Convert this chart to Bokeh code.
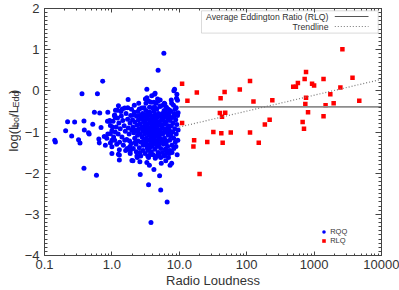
import math
from bokeh.plotting import figure
from bokeh.layouts import row
from bokeh.models import (Range1d, FixedTicker, LogAxis, LinearAxis, Label,
                          BoxAnnotation, Arrow, Legend, LegendItem)
from bokeh.core.properties import value
from bokeh.embed import file_html
from bokeh.resources import INLINE

# ---------------- data ----------------
# Radio-quiet quasars (RQQ): radio loudness, log(Lbol/LEdd)
rqq_left_rl = [0.142, 0.145, 0.206, 0.22, 0.253, 0.28, 0.32, 0.336, 0.36, 0.385, 0.39, 0.385,
               0.45, 0.46, 0.52, 0.55, 0.59, 0.61, 0.64, 0.65, 0.66, 0.69, 0.73, 0.77, 0.80,
               0.84, 0.86, 0.87, 0.87, 0.90, 0.93, 0.95, 0.95, 0.95, 1.00, 1.00, 1.00, 1.00,
               1.02, 1.04, 1.06, 1.09, 1.10, 1.13, 1.12]
rqq_left_y = [-1.20, -1.24, -0.97, -0.75, -1.10, -0.76, -1.19, -1.27, -0.07, -0.73, -0.95, -1.88,
              -1.02, -1.05, -0.81, -0.52, -2.05, -0.07, -1.17, -1.27, -0.54, -0.89, 0.23, -1.11, -1.32,
              -1.15, -0.74, -0.52, -1.05, -0.74, -0.72, -0.84, -1.04, -1.27, -0.97, -1.20, -1.36, -1.52,
              -0.88, -0.74, -1.12, -0.60, -1.20, -0.47, -0.65]

rqq_high_rl = [5.9, 4.85, 3.3, 8.5, 4.3, 9.2, 8.3, 9.1, 9.4, 3.3, 4.76, 7.6, 6.1, 5.2, 1.25, 1.74,
               2.55, 3.0, 4.0, 1.43, 1.72, 1.22, 9.0, 7.3, 9.6, 8.3, 6.2, 3.55, 2.15, 1.1, 4.37, 3.9]
rqq_high_y = [0.91, 0.50, 0.04, 0.04, -0.08, -0.08, 0.00, -0.18, -0.23, -0.17, -0.20, -0.22, -0.32,
              -0.37, -0.36, -0.21, -0.44, -0.41, -0.41, -0.44, -0.41, -0.47, -0.41, -0.48, -0.53,
              -0.63, -0.51, -0.52, -0.52, -0.59, -0.06, -0.12]

rqq_low_rl = [2.63, 4.2, 5.1, 3.5, 5.3, 6.6, 3.8, 3.3, 3.6, 5.4, 6.9, 7.3, 7.7, 6.3, 3.5, 2.6, 2.05,
              2.35, 1.87, 1.29, 1.29, 1.98, 1.25, 1.29, 1.55, 1.85, 4.4, 7.1, 6.4]
rqq_low_y = [-2.03, -1.91, -2.06, -2.28, -2.41, -2.70, -3.20, -1.74, -1.81, -1.76, -1.62, -1.81,
             -1.76, -1.70, -1.62, -1.72, -1.70, -1.58, -1.52, -1.56, -1.68, -1.69, -1.54, -1.43,
             -1.20, -1.35, -1.64, -1.52, -1.45]

rqq_core_rl = [
    1.21, 1.27, 1.33, 1.24, 1.38, 1.45, 1.52, 1.41, 1.58, 1.62, 1.66, 1.71, 1.75, 1.80, 1.86,
    1.90, 1.94, 1.97, 1.30, 1.48, 1.69, 1.83, 1.16, 1.12, 1.55, 1.95, 1.36, 1.60, 1.18, 1.88,
    2.02, 2.05, 2.10, 2.12, 2.18, 2.20, 2.25, 2.28, 2.32, 2.35, 2.40, 2.42, 2.45, 2.48, 2.52,
    2.55, 2.58, 2.62, 2.65, 2.70, 2.72, 2.76, 2.80, 2.84, 2.88, 2.92, 2.95, 2.98, 2.08, 2.30,
    2.60, 2.90, 2.15, 2.50, 2.78, 2.38, 2.22, 2.68, 2.86, 2.44,
    3.02, 3.05, 3.08, 3.12, 3.15, 3.18, 3.22, 3.25, 3.28, 3.32, 3.35, 3.38, 3.42, 3.45, 3.48,
    3.52, 3.55, 3.58, 3.62, 3.65, 3.68, 3.72, 3.75, 3.78, 3.82, 3.85, 3.88, 3.92, 3.95, 3.98,
    3.10, 3.40, 3.70, 3.20, 3.50, 3.80, 3.60, 3.30, 3.90, 3.00, 3.14, 3.66, 3.36, 3.76, 3.46,
    4.02, 4.05, 4.08, 4.12, 4.15, 4.18, 4.22, 4.25, 4.28, 4.32, 4.35, 4.38, 4.42, 4.45, 4.48,
    4.52, 4.55, 4.58, 4.62, 4.65, 4.68, 4.72, 4.76, 4.80, 4.85, 4.90, 4.95, 5.00, 5.05, 5.10,
    5.15, 5.20, 5.25, 5.30, 5.35, 5.40, 5.45, 5.50, 4.10, 4.40, 4.70, 5.00, 5.30, 4.20, 4.50,
    4.80, 5.20, 4.60, 4.90, 4.30,
    5.55, 5.62, 5.68, 5.75, 5.82, 5.88, 5.95, 6.02, 6.10, 6.18, 6.25, 6.32, 6.40, 6.48, 6.55,
    6.62, 6.70, 6.78, 6.85, 6.92, 5.60, 5.90, 6.20, 6.60, 5.70, 6.00, 6.45, 5.78, 6.36, 6.88,
    6.05, 5.58, 6.70, 6.15, 5.85,
    7.05, 7.12, 7.20, 7.30, 7.40, 7.50, 7.62, 7.75, 7.85, 7.95, 8.10, 8.25, 8.40, 8.55, 8.70,
    8.85, 9.00, 9.20, 9.40, 9.60, 7.25, 7.80, 8.30, 8.90, 7.70, 8.20, 9.50, 7.55, 8.65, 9.30]
rqq_core_y = [
    -0.66, -0.78, -0.92, -1.05, -0.61, -0.72, -0.85, -1.12, -0.98, -0.55, -1.18, -0.69, -0.90, -1.05, -0.78,
    -0.60, -1.28, -0.95, -1.25, -1.32, -1.40, -1.22, -0.88, -1.00, -0.42, -0.45, -0.50, -1.45, -1.30, -1.45,
    -0.70, -0.88, -1.02, -0.58, -1.15, -0.76, -0.95, -1.30, -0.62, -0.83, -1.08, -0.50, -1.22, -0.70, -0.92,
    -1.38, -0.60, -0.80, -1.05, -1.25, -0.68, -0.88, -1.12, -0.55, -0.97, -1.32, -0.75, -1.18, -1.40, -1.48,
    -1.50, -1.45, -0.35, -0.30, -0.42, -1.62, -1.25, -1.58, -0.65, -0.98,
    -0.58, -0.85, -1.05, -0.72, -1.25, -0.48, -0.95, -1.15, -0.65, -0.80, -1.40, -1.00, -0.55, -0.88, -1.20,
    -0.70, -1.08, -0.95, -0.40, -1.30, -0.78, -1.02, -0.60, -1.15, -0.90, -1.48, -0.68, -1.05, -0.82, -1.22,
    -1.52, -1.58, -1.55, -0.30, -0.25, -0.28, -1.38, -1.32, -1.35, -0.95, -0.20, -0.52, -0.62, -0.95, -1.45,
    -0.62, -0.90, -1.12, -0.75, -1.30, -0.50, -0.98, -1.18, -0.68, -0.85, -1.42, -1.05, -0.58, -0.92, -1.25,
    -0.72, -1.10, -0.80, -0.45, -1.35, -1.00, -0.65, -1.20, -0.85, -1.50, -0.55, -1.08, -0.75, -1.28, -0.95,
    -0.38, -1.15, -0.62, -1.40, -0.82, -1.02, -0.70, -1.22, -1.55, -1.60, -1.58, -1.55, -1.62, -0.28, -0.30,
    -0.25, -0.22, -1.30, -1.32, -0.40,
    -0.88, -0.55, -1.05, -0.72, -1.30, -0.92, -0.48, -1.15, -0.80, -1.42, -0.62, -1.00, -0.75, -1.22, -0.55,
    -0.90, -1.35, -0.68, -1.08, -0.85, -1.50, -1.58, -1.55, -1.50, -0.35, -0.30, -0.40, -1.20, -1.28, -0.45,
    -0.62, -0.62, -1.02, -0.98, -0.65,
    -0.58, -0.95, -1.20, -0.72, -1.05, -0.50, -0.85, -1.32, -0.65, -1.00, -0.78, -1.15, -0.55, -0.92, -1.25,
    -0.70, -1.05, -0.82, -0.60, -0.95, -1.45, -1.50, -1.40, -1.35, -0.30, -0.35, -1.20, -1.10, -0.45, -1.55]

rqq_rl = rqq_left_rl + rqq_high_rl + rqq_low_rl + rqq_core_rl
rqq_y = rqq_left_y + rqq_high_y + rqq_low_y + rqq_core_y

# Radio-loud quasars (RLQ)
rlq_rl = [2630, 759, 724, 1380, 3715, 112, 490, 537, 575, 933, 1000, 2455, 79, 47, 41, 126, 240,
          759, 1740, 741, 1480, 1950, 4680, 40, 48, 43, 813, 1380, 219, 186, 676, 708, 32, 42,
          58, 112, 26, 44, 151, 11, 13.2, 18.2, 11, 16.6, 16.2, 20]
rlq_y = [1.01, 0.46, 0.29, 0.29, 0.32, 0.24, 0.10, 0.10, 0.19, 0.17, 0.13, 0.08, 0.03, -0.03, -0.18,
         -0.26, -0.23, -0.17, -0.08, -0.32, -0.35, -0.30, -0.24, -0.54, -0.53, -0.63, -0.52, -0.62,
         -0.70, -0.82, -0.76, -0.92, -1.00, -1.03, -1.01, -1.01, -1.24, -1.26, -1.26, 0.17, -0.24,
         -0.04, -0.78, -1.20, -1.35, -2.02]

avg_line_rl = [10, 10000]
avg_line_y = [-0.39, -0.39]          # average Eddington ratio (RLQ)
trend_rl = [10, 10000]
trend_y = [-0.88, 0.28]               # trendline

x_ticks = [0.1, 1, 10, 100, 1000, 10000]
x_tick_labels = ["0.1", "1.0", "10.0", "100", "1000", "10000"]
y_ticks = [-4, -3, -2, -1, 0, 1, 2]
y_tick_labels = ["\u22124", "\u22123", "\u22122", "\u22121", "0", "1", "2"]

# y-axis title pieces: (text, is_subscript)
ytitle_parts = [("log(L", False), ("bol", True), ("/L", False), ("Edd", True), (")", False)]

# ---------------- style ----------------
FONT = "Liberation Sans"
TXT = "#333333"
AX = "#444444"
W_LAB = 21
H = 290

p = figure(width=399 - W_LAB, height=H, x_axis_type="log",
           x_range=Range1d(0.1, 10000), y_range=Range1d(-4, 2),
           output_backend="svg", toolbar_location=None,
           min_border_left=42 - W_LAB, min_border_right=18, min_border_top=8, min_border_bottom=34)
p.xgrid.visible = False
p.ygrid.visible = False
p.outline_line_color = AX
p.background_fill_color = "white"
p.border_fill_color = "white"

x_minor = [m * 10.0 ** e for e in range(-1, 4) for m in range(2, 10)]
y_minor = [round(-4 + i * 0.1, 1) for i in range(61)]
xt = FixedTicker(ticks=x_ticks, minor_ticks=x_minor)
yt = FixedTicker(ticks=y_ticks, minor_ticks=y_minor)


def style(ax, ticker, labels, maj, mnr):
    ax.ticker = ticker
    ax.axis_line_color = AX
    ax.major_tick_line_color = AX
    ax.minor_tick_line_color = AX
    ax.major_tick_in = maj
    ax.major_tick_out = 0
    ax.minor_tick_in = mnr
    ax.minor_tick_out = 0
    if labels is None:
        ax.major_label_text_font_size = "1px"
        ax.major_label_text_alpha = 0
        ax.major_label_standoff = 0
    else:
        ax.major_label_overrides = labels
        ax.major_label_text_font = FONT
        ax.major_label_text_font_size = "13px"
        ax.major_label_text_color = TXT


xa = p.xaxis[0]
style(xa, xt, {float(t): l for t, l in zip(x_ticks, x_tick_labels)}, 4, 2)
xa.major_label_standoff = 4
xa.axis_label = "Radio Loudness"
xa.axis_label_text_font = FONT
xa.axis_label_text_font_size = "13px"
xa.axis_label_text_font_style = "normal"
xa.axis_label_text_color = TXT
xa.axis_label_standoff = 1
style(p.yaxis[0], yt, {float(t): l for t, l in zip(y_ticks, y_tick_labels)}, 6, 3)
p.yaxis[0].major_label_standoff = 5

top = LogAxis()
style(top, xt, None, 4, 2)
p.add_layout(top, "above")
right = LinearAxis()
style(right, yt, None, 6, 3)
p.add_layout(right, "right")

# ---------------- marks ----------------
rqq = p.scatter(rqq_rl, rqq_y, marker="circle", size=5, fill_color="#0000FF", line_color=None)
rlq = p.scatter(rlq_rl, rlq_y, marker="square", size=4.5, fill_color="#FF0000", line_color=None)
p.line(avg_line_rl, avg_line_y, line_color="#8c8c8c", line_width=1.6)
p.line(trend_rl, trend_y, line_color="#7a7a7a", line_width=1.2, line_dash="1 2")


def lab(text, x, y, size="13px", align="left", baseline="alphabetic"):
    p.add_layout(Label(text=text, x=x, y=y, x_units="screen", y_units="screen",
                       text_font=FONT, text_font_size=size, text_color=TXT,
                       text_align=align, text_baseline=baseline))


# top-right legend box (screen units from frame bottom-left)
p.add_layout(BoxAnnotation(left=157, right=333.7, top=244.7, bottom=222.4,
                           left_units="screen", right_units="screen",
                           top_units="screen", bottom_units="screen",
                           fill_alpha=0, line_color="#888888", line_width=1))
lab("Average Eddington Ratio (RLQ)", 284, 239, size="8.7px", align="right", baseline="middle")
lab("Trendline", 284, 229, size="8.7px", align="right", baseline="middle")
p.add_layout(Arrow(x_start=290.3, y_start=239, x_end=324, y_end=239,
                   start_units="screen", end_units="screen", start=None, end=None,
                   line_color="#555555", line_width=1))
p.add_layout(Arrow(x_start=290.3, y_start=229, x_end=324, y_end=229,
                   start_units="screen", end_units="screen", start=None, end=None,
                   line_color="#777777", line_width=1, line_dash="1 2"))

# bottom-right legend
leg = Legend(items=[LegendItem(label="RQQ", renderers=[rqq]),
                    LegendItem(label="RLQ", renderers=[rlq])],
             location=(275.2, 9.9), orientation="vertical",
             border_line_alpha=0, background_fill_alpha=0,
             padding=0, margin=0, spacing=0,
             glyph_height=9, glyph_width=9, label_height=9, label_standoff=2,
             label_text_font=FONT, label_text_font_size="7.5px", label_text_color=TXT)
p.add_layout(leg)

# ---------------- y-axis title in a narrow side figure ----------------
q = figure(width=W_LAB, height=H, x_range=Range1d(0, W_LAB), y_range=Range1d(0, H),
           output_backend="svg", toolbar_location=None,
           x_axis_location=None, y_axis_location=None, min_border=0)
q.grid.visible = False
q.outline_line_color = None
q.background_fill_color = "white"
q.border_fill_color = "white"

# approximate advance widths (px) of each piece for stacking along the rotated baseline
adv = {"log(L": 28.9, "bol": 12.0, "/L": 10.8, "Edd": 16.0, ")": 4.3}
ypos = H - 132 - sum(adv.values()) / 2
for txt, sub in ytitle_parts:
    q.text(x=[15.3 if sub else 13.0], y=[ypos], text=[txt], angle=math.pi / 2,
           text_font=value(FONT), text_font_size=value("9px" if sub else "13px"),
           text_color=TXT, text_align="left", text_baseline="alphabetic")
    ypos += adv[txt]

layout = row(q, p, spacing=0)
open("out.html", "w").write(file_html(layout, INLINE))
